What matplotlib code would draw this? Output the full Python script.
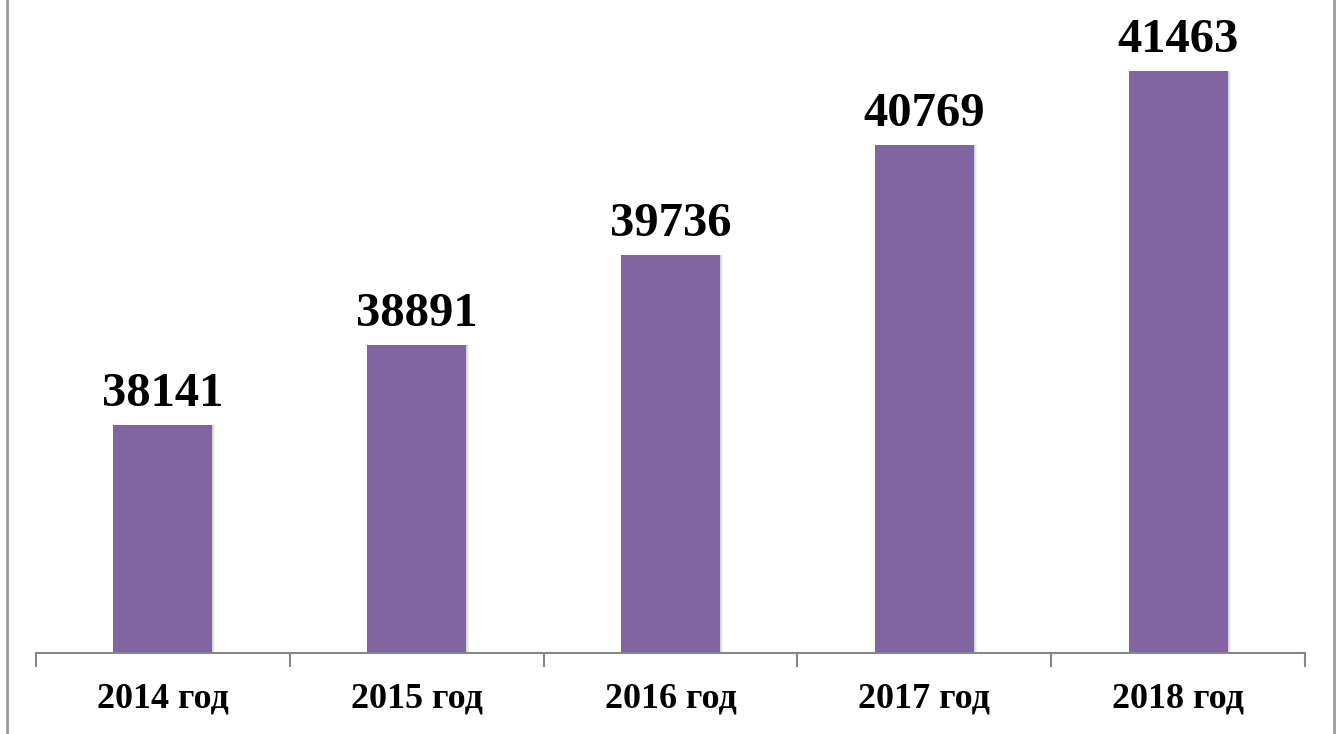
import matplotlib
matplotlib.use("Agg")
import matplotlib.pyplot as plt
from matplotlib.lines import Line2D
import numpy as np

categories = ["2014 год", "2015 год", "2016 год", "2017 год", "2018 год"]
values = [38141, 38891, 39736, 40769, 41463]

W, H = 1336, 734
fig = plt.figure(figsize=(W / 100, H / 100), dpi=100)
ax = fig.add_axes([36 / W, 1 - 653 / H, (1305 - 36) / W, (653 - 14) / H])

x = np.arange(len(categories))
bw = 0.39
color = "#8064A2"

# soft shadow
for dx, a in [(0.012, 0.10), (0.008, 0.12), (0.004, 0.15)]:
    ax.bar(x + dx, np.array(values) - 36000, bottom=36000, width=bw,
           color="#7f7f7f", alpha=a, linewidth=0, zorder=1)
ax.bar(x, np.array(values) - 36000, bottom=36000, width=bw, color=color,
       linewidth=0, zorder=2)

for xi, v in zip(x, values):
    ax.annotate(f"{v}", xy=(xi, v), xytext=(0, 14), textcoords="offset points",
                ha="center", va="baseline", fontsize=35, fontweight="bold",
                family="Liberation Serif", color="black")

ax.set_xlim(-0.5, len(categories) - 0.5)
ax.set_ylim(36000, 42000)

ax.set_xticks(np.arange(-0.5, len(categories)), minor=False)
ax.set_xticklabels([])
ax.set_xticks(x, minor=True)
ax.set_xticklabels(categories, minor=True, fontsize=26, fontweight="bold",
                   family="Liberation Serif")
ax.tick_params(axis="x", which="major", length=10, width=1.5, color="#868686")
ax.tick_params(axis="x", which="minor", length=0, pad=21)
ax.set_yticks([])

for s in ["top", "right", "left"]:
    ax.spines[s].set_visible(False)
ax.spines["bottom"].set_color("#868686")
ax.spines["bottom"].set_linewidth(1.5)

for xp in [6.5 / W, 1333.5 / W]:
    fig.add_artist(Line2D([xp, xp], [0, 1], transform=fig.transFigure,
                          color="#9a9a9a", linewidth=2))

fig.savefig("out.png", dpi=100)
